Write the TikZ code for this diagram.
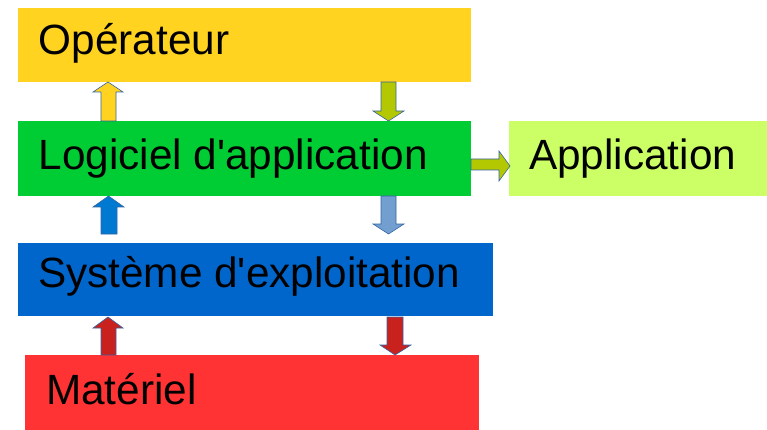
\documentclass[tikz,border=0pt]{standalone}
\usepackage{fontspec}
\setmainfont[Ligatures=NoCommon,Mapping=]{Liberation Sans}
\definecolor{cyel}{HTML}{FFD320}
\definecolor{cgrn}{HTML}{00CC33}
\definecolor{clgr}{HTML}{CCFF66}
\definecolor{cblu}{HTML}{0066CC}
\definecolor{cred}{HTML}{FF3333}
\definecolor{colv}{HTML}{B3C800}
\definecolor{cbl2}{HTML}{0079D0}
\definecolor{cbl3}{HTML}{729FCF}
\definecolor{cdrd}{HTML}{C9211E}
\definecolor{cedge}{HTML}{3465A4}
\newcommand\apos{\symbol{39}}
\begin{document}
\begin{tikzpicture}[x=1pt,y=-1pt,
  lbl/.style={anchor=base west,inner sep=0pt,font=\fontsize{42.3}{46}\selectfont},
  barrow/.style={draw=cedge,line width=0.6pt,line join=miter}]
\useasboundingbox (0,0) rectangle (767,430);
% boxes
\fill[cyel] (18,8) rectangle (471,82);
\fill[cgrn] (18,121) rectangle (471,196);
\fill[clgr] (509,121) rectangle (767,196);
\fill[cblu] (18,243) rectangle (493,316);
\fill[cred] (25,355) rectangle (479,430);
\node[lbl] (op) at (38.5,55) {Opérateur};
\node[lbl] (log) at (38.5,169.5) {Logiciel d\apos application};
\node[lbl] (app) at (529,170) {Application};
\node[lbl] (sys) at (38,287.5) {Système d\apos exploitation};
\node[lbl] (mat) at (46,404) {Matériel};
% arrows Op <-> Log
\filldraw[barrow,fill=cyel] (101,121) -- (101,92) -- (93,92) -- (108,82) -- (123,92) -- (116,92) -- (116,121) -- cycle;
\filldraw[barrow,fill=colv] (381,82) -- (396,82) -- (396,111) -- (404,111) -- (388.5,121) -- (373,111) -- (381,111) -- cycle;
% arrows Log <-> Sys
\filldraw[barrow,fill=cbl2] (101,234) -- (101,207) -- (93,207) -- (108.5,196) -- (124,207) -- (117,207) -- (117,234) -- cycle;
\filldraw[barrow,fill=cbl3] (381,196) -- (396,196) -- (396,224) -- (404,224) -- (388.5,234) -- (373,224) -- (381,224) -- cycle;
% arrows Sys <-> Mat
\filldraw[barrow,fill=cdrd] (101,355) -- (101,328) -- (93,328) -- (108,317) -- (123,328) -- (116,328) -- (116,355) -- cycle;
\filldraw[barrow,fill=cdrd] (387,317) -- (403,317) -- (403,345) -- (411,345) -- (395,355) -- (380,345) -- (387,345) -- cycle;
% arrow Log -> App
\filldraw[barrow,fill=colv] (471,159) -- (499,159) -- (499,151) -- (510,166) -- (499,181) -- (499,170) -- (471,170) -- cycle;
\end{tikzpicture}
\end{document}
